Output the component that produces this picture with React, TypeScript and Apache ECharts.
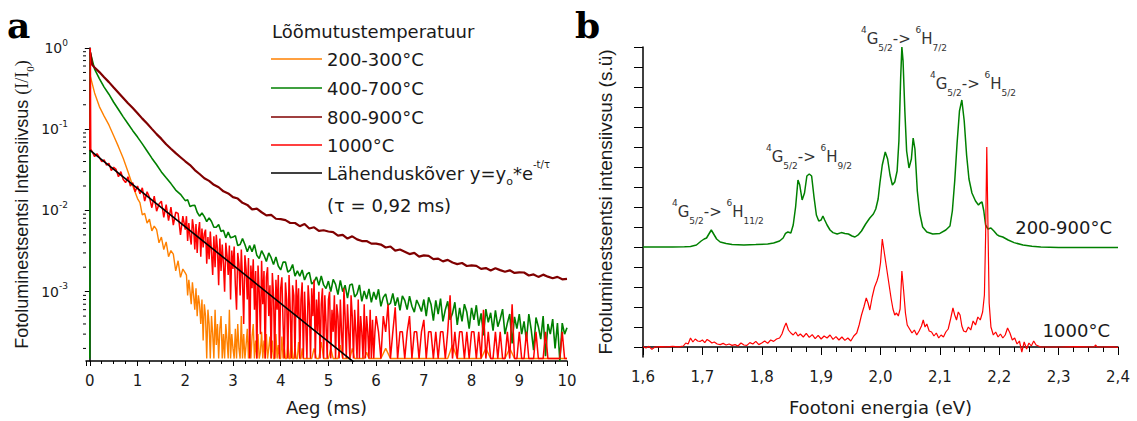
import React, { useEffect, useRef } from "react";
import * as echarts from "echarts";

// ---------------- Panel a : luminescence decay (log scale) ----------------
const STEP_COARSE = 0.1; // ms
const STEP_FINE = 0.05; // ms
const STEP_DENSE = 0.025; // ms

// 200-300°C
const orangeLead: [number, number][] = [[0.01, 0.45]];
const orangeEarly = [0.28, 0.19, 0.145, 0.113, 0.083, 0.061, 0.044, 0.030, 0.020, 0.014]; // t = 0.1 .. 1.0
const orangeFine = [ // t = 1.05 .. 2.0
  0.0125, 0.0088, 0.0092, 0.0070, 0.0078, 0.0056, 0.0064, 0.0058, 0.0040, 0.0047,
  0.0033, 0.0041, 0.0027, 0.0032, 0.0029, 0.0018, 0.0024, 0.0015, 0.0019, 0.0017,
];
const orangeDense = [ // t = 2.025 .. 4.5
  0.0016, 0.0009, 0.0014, 0.0010, 0.0007, 0.0013, 0.0009, 0.0006,
  0.0011, 0.0005, 0.0009, 0.0007, 0.0004, 0.0008, 0.00025, 0.0007,
  0.0005, 0.00015, 0.0006, 0.0004, 0.00015, 0.0005, 0.0003, 0.00015,
  0.0006, 0.00022, 0.0004, 0.00015, 0.00035, 0.0005, 0.00015, 0.0003,
  0.00015, 0.0004, 0.00025, 0.00015, 0.0006, 0.00015, 0.0003, 0.0002,
  0.00015, 0.00035, 0.00015, 0.0004, 0.0002, 0.00015, 0.0005, 0.00015,
  0.0003, 0.00015, 0.00022, 0.00035, 0.00015, 0.0003, 0.00015, 0.00028,
  0.0004, 0.00015, 0.00025, 0.00015, 0.0003, 0.00015, 0.00018, 0.00032,
  0.00015, 0.00025, 0.00015, 0.0003, 0.00015, 0.0002, 0.00028, 0.00015,
  0.00025, 0.00015, 0.00015, 0.0003, 0.00015, 0.00022, 0.00015, 0.00015,
  0.00028, 0.00015, 0.0002, 0.00015, 0.00015, 0.00025, 0.00015, 0.00015,
  0.0003, 0.00015, 0.00015, 0.0002, 0.00015, 0.00015, 0.00024, 0.00015,
  0.00015, 0.0002, 0.00015, 0.00015,
];
const orangeLate = [ // t = 4.55 .. 6.0
  0.00015, 0.00015, 0.00015, 0.0002, 0.00015, 0.00015, 0.00024, 0.00015, 0.00015, 0.00015,
  0.0002, 0.00015, 0.00015, 0.00015, 0.00022, 0.00015, 0.00015, 0.00015, 0.00015, 0.0002,
  0.00015, 0.00015, 0.00015, 0.00015, 0.00015, 0.00018, 0.00015, 0.00015, 0.00015, 0.00015,
];
const orangeTail = [ // t = 6.1 .. 10.0
  0.00015, 0.0002, 0.00015, 0.00015, 0.00015, 0.00015, 0.00015, 0.00015, 0.00015, 0.00015,
  0.00015, 0.00015, 0.00015, 0.00015, 0.00015, 0.00022, 0.00015, 0.00015, 0.00015, 0.00015,
  0.00015, 0.00015, 0.0002, 0.00015, 0.00015, 0.00015, 0.00015, 0.0002, 0.00015, 0.00015,
  0.00015, 0.00015, 0.00015, 0.00015, 0.00015, 0.00015, 0.00015, 0.00015, 0.00015, 0.00015,
];

// 400-700°C
const greenLead: [number, number][] = [[0, 0.00015], [0.01, 0.88]];
const greenEarly = [ // t = 0.1 .. 2.0
  0.55, 0.42, 0.33, 0.27, 0.215, 0.175, 0.142, 0.117, 0.096, 0.080,
  0.066, 0.054, 0.044, 0.0365, 0.0298, 0.0252, 0.0214, 0.0178, 0.0158, 0.0132,
];
const greenLate = [ // t = 2.05 .. 10.0
  0.0135, 0.0112, 0.0115, 0.0116, 0.0095, 0.0085, 0.0093, 0.0084, 0.0073, 0.0081,
  0.0073, 0.0062, 0.0062, 0.0067, 0.0055, 0.0057, 0.0046, 0.0054, 0.0046, 0.0047,
  0.0049, 0.0037, 0.0038, 0.0045, 0.0038, 0.0031, 0.0037, 0.0031, 0.0038, 0.0028,
  0.00255, 0.0032, 0.0028, 0.00235, 0.0030, 0.00262, 0.00216, 0.00267, 0.00207, 0.00185,
  0.00231, 0.00232, 0.00174, 0.00184, 0.00216, 0.00155, 0.0018, 0.00155, 0.00185, 0.00139,
  0.00164, 0.00173, 0.00124, 0.00133, 0.00152, 0.0012, 0.00156, 0.00121, 0.00109, 0.00135,
  0.0010, 0.00142, 0.00123, 0.00092, 0.00138, 0.0010, 0.0012, 0.00083, 0.00121, 0.00124,
  0.00086, 0.00094, 0.00121, 0.00076, 0.00102, 0.00081, 0.00108, 0.00074, 0.00099, 0.0008,
  0.00107, 0.00066, 0.00085, 0.00094, 0.00068, 0.00072, 0.00095, 0.00067, 0.00085, 0.00059,
  0.00089, 0.00078, 0.0006, 0.00088, 0.00066, 0.00056, 0.00079, 0.00068, 0.00057, 0.0008,
  0.00050, 0.00085, 0.00070, 0.00044, 0.00078, 0.00053, 0.00082, 0.00043, 0.00060, 0.00076,
  0.00045, 0.00054, 0.00074, 0.00039, 0.00063, 0.00043, 0.00070, 0.00056, 0.00035, 0.00063,
  0.00045, 0.00068, 0.00038, 0.00054, 0.00029, 0.00061, 0.00042, 0.00055, 0.00033, 0.00059,
  0.00037, 0.00046, 0.00061, 0.00030, 0.00041, 0.00053, 0.00023, 0.00049, 0.00035, 0.00053,
  0.00030, 0.00043, 0.00025, 0.00053, 0.00034, 0.00019, 0.00048, 0.00037, 0.00026, 0.00050,
  0.00016, 0.00040, 0.00030, 0.00046, 0.00020, 0.00041, 0.00014, 0.00041, 0.00030, 0.00036,
];

// 800-900°C
const darkRedLead: [number, number][] = [[0.01, 0.88], [0.05, 0.62]];
const darkRed800_900 = [ // t = 0.1 .. 10.0
  0.575, 0.505, 0.437, 0.38, 0.327, 0.282, 0.243, 0.209, 0.182, 0.157,
  0.135, 0.1175, 0.101, 0.087, 0.076, 0.0653, 0.0575, 0.0507, 0.0452, 0.0403,
  0.0362, 0.0314, 0.0281, 0.0249, 0.0231, 0.0207, 0.0193, 0.0172, 0.0162, 0.0146,
  0.0140, 0.0124, 0.0117, 0.0103, 0.0105, 0.0095, 0.0087, 0.0088, 0.0079, 0.0078,
  0.0076, 0.0070, 0.0070, 0.0064, 0.0068, 0.0060, 0.0062, 0.0056, 0.0057, 0.0055,
  0.0054, 0.0049, 0.0050, 0.0045, 0.0048, 0.0044, 0.0042, 0.0042, 0.0039, 0.0039,
  0.0038, 0.0035, 0.0036, 0.0032, 0.0033, 0.0031, 0.0029, 0.0030, 0.0027, 0.0028,
  0.00276, 0.00252, 0.00255, 0.00236, 0.00246, 0.00228, 0.00218, 0.00225, 0.00207, 0.00211,
  0.00208, 0.00191, 0.00195, 0.00182, 0.00194, 0.00184, 0.00176, 0.00183, 0.0017, 0.00173,
  0.00172, 0.00158, 0.00163, 0.00152, 0.00162, 0.00153, 0.00146, 0.00152, 0.00142, 0.00144,
];

// 1000°C
const redLead: [number, number][] = [[0, 0.055], [0.01, 1.0], [0.02, 0.057]];
const redEarly = [ // t = 0.05 .. 2.0
  0.053, 0.046, 0.050, 0.045, 0.040, 0.042, 0.036, 0.038, 0.031, 0.034,
  0.032, 0.026, 0.030, 0.024, 0.022, 0.026, 0.020, 0.022, 0.017, 0.020,
  0.016, 0.019, 0.013, 0.017, 0.0145, 0.0108, 0.0150, 0.0098, 0.0120, 0.0130,
  0.0082, 0.0118, 0.0075, 0.0110, 0.0066, 0.0095, 0.0092, 0.0050, 0.0085, 0.0058,
];
const redDense = [ // t = 2.025 .. 6.0
  0.0085, 0.0042, 0.0070, 0.0048, 0.0038, 0.0078, 0.0060, 0.0033,
  0.0068, 0.0030, 0.0055, 0.0072, 0.0027, 0.0060, 0.0035, 0.0052,
  0.0058, 0.0022, 0.0047, 0.0025, 0.0055, 0.0030, 0.0016, 0.0048,
  0.0020, 0.0050, 0.0034, 0.0012, 0.0045, 0.0018, 0.0038, 0.0022,
  0.0010, 0.0040, 0.0028, 0.0016, 0.0037, 0.0008, 0.0032, 0.0019,
  0.0036, 0.0012, 0.0006, 0.0030, 0.0022, 0.0009, 0.0033, 0.0014,
  0.0004, 0.0028, 0.0019, 0.0008, 0.0026, 0.00015, 0.0021, 0.0011,
  0.0025, 0.0006, 0.0018, 0.00015, 0.0021, 0.0010, 0.0003, 0.0024,
  0.0007, 0.0018, 0.00015, 0.0015, 0.0020, 0.0005, 0.0012, 0.00015,
  0.0017, 0.0009, 0.00015, 0.0014, 0.0006, 0.0016, 0.00015, 0.0011,
  0.0015, 0.0004, 0.00015, 0.0013, 0.0008, 0.00015, 0.0016, 0.0006,
  0.00015, 0.0012, 0.0009, 0.00015, 0.0014, 0.0005, 0.0011, 0.00015,
  0.0008, 0.0013, 0.00015, 0.0010, 0.0004, 0.00015, 0.0012, 0.0007,
  0.00015, 0.0011, 0.0005, 0.0014, 0.00015, 0.0008, 0.00032, 0.0010,
  0.00015, 0.0007, 0.0011, 0.00015, 0.0009, 0.0004, 0.00015, 0.0008,
  0.0010, 0.00015, 0.0006, 0.00032, 0.0009, 0.00015, 0.0007, 0.0005,
  0.00015, 0.0008, 0.00032, 0.00015, 0.0011, 0.0005, 0.00015, 0.0007,
  0.00032, 0.00015, 0.0009, 0.0005, 0.00015, 0.0006, 0.00032, 0.00015,
  0.0008, 0.00015, 0.0005, 0.00032, 0.00015, 0.0007, 0.00015, 0.0005,
  0.00032, 0.00015, 0.0006, 0.00015, 0.00045, 0.00015, 0.00032, 0.0005,
];
const redLate = [ // t = 6.05 .. 10.0
  0.00032, 0.00015, 0.0005, 0.00032, 0.0007, 0.00015, 0.00032, 0.00064, 0.00015, 0.00032,
  0.00032, 0.00015, 0.00032, 0.0005, 0.00015, 0.00032, 0.00032, 0.00015, 0.00032, 0.00045,
  0.00015, 0.00032, 0.00032, 0.00015, 0.00032, 0.00015, 0.00032, 0.00032, 0.00015, 0.00032,
  0.0009, 0.00015, 0.00032, 0.00015, 0.00032, 0.00032, 0.00015, 0.00032, 0.00015, 0.00032,
  0.00032, 0.00015, 0.00032, 0.00015, 0.0006, 0.00015, 0.00032, 0.00015, 0.00015, 0.00032,
  0.00015, 0.00032, 0.00015, 0.00015, 0.00032, 0.00015, 0.0007, 0.00015, 0.00015, 0.00032,
  0.00015, 0.00015, 0.00032, 0.00015, 0.00015, 0.00015, 0.00032, 0.00015, 0.00015, 0.00015,
  0.00032, 0.00015, 0.00015, 0.00015, 0.00015, 0.00015, 0.00015, 0.00032, 0.00015, 0.00015,
];

// exponential fit y = y0 * e^(-t/tau), tau = 0.92 ms (straight on a log axis)
const fitLine: [number, number][] = [[0, 0.0553], [5.6, 0.000126]];

const LOG_MANTISSAS = [2, 3, 4, 5, 6, 7, 8, 9];
const LOG_DECADES = [-4, -3, -2, -1];

// ---------------- Panel b : emission spectra ----------------
const spectrum200_900: [number, number][] = [
  [1.6, 5.0], [1.65, 5.0], [1.67, 5.01], [1.68, 5.03], [1.69, 5.1], [1.698, 5.3], [1.703, 5.4],
  [1.707, 5.45], [1.711, 5.65], [1.715, 5.85], [1.719, 5.65], [1.724, 5.4], [1.73, 5.25],
  [1.74, 5.18], [1.75, 5.12], [1.77, 5.1], [1.79, 5.12], [1.81, 5.15], [1.82, 5.2], [1.83, 5.3],
  [1.836, 5.45], [1.84, 5.68], [1.844, 5.75], [1.849, 5.7], [1.853, 6.1], [1.857, 7.0],
  [1.861, 8.35], [1.864, 8.1], [1.868, 7.35], [1.872, 7.7], [1.876, 8.55], [1.88, 8.65],
  [1.884, 8.55], [1.888, 7.5], [1.892, 6.6], [1.896, 6.3], [1.9, 6.35], [1.903, 6.55],
  [1.906, 6.35], [1.91, 6.1], [1.915, 5.85], [1.92, 5.72], [1.927, 5.65], [1.934, 5.72],
  [1.94, 5.68], [1.946, 5.65], [1.952, 5.55], [1.957, 5.5], [1.963, 5.62], [1.968, 5.8],
  [1.975, 6.15], [1.982, 6.45], [1.988, 6.65], [1.992, 6.9], [1.996, 7.4], [1.999, 8.2],
  [2.003, 9.1], [2.008, 9.75], [2.012, 9.4], [2.016, 8.6], [2.02, 8.1], [2.024, 8.25],
  [2.028, 8.8], [2.031, 10.3], [2.034, 13.5], [2.036, 15.0], [2.038, 14.3], [2.041, 11.8],
  [2.044, 9.8], [2.048, 8.95], [2.052, 9.4], [2.055, 10.45], [2.058, 9.9], [2.062, 7.8],
  [2.066, 6.7], [2.071, 6.0], [2.078, 5.75], [2.088, 5.65], [2.1, 5.68], [2.11, 5.85],
  [2.117, 6.05], [2.121, 6.8], [2.125, 8.3], [2.129, 10.2], [2.133, 11.8], [2.137, 12.35],
  [2.141, 11.3], [2.145, 9.6], [2.149, 8.4], [2.154, 7.7], [2.16, 7.3], [2.165, 7.1],
  [2.168, 7.2], [2.171, 7.25], [2.174, 6.8], [2.177, 6.1], [2.181, 5.9], [2.186, 5.95],
  [2.191, 5.8], [2.196, 5.62], [2.2, 5.55], [2.206, 5.5], [2.215, 5.35], [2.225, 5.22],
  [2.24, 5.1], [2.255, 5.04], [2.27, 5.0], [2.3, 4.98], [2.35, 4.97], [2.4, 4.97],
];

const spectrum1000: [number, number][] = [
  [1.6, 0.02], [1.605, -0.05], [1.61, 0.03], [1.615, -0.12], [1.62, 0.0], [1.63, 0.02],
  [1.64, 0.01], [1.65, 0.03], [1.66, 0.01], [1.668, 0.05], [1.672, 0.2], [1.676, 0.15],
  [1.68, 0.45], [1.684, 0.25], [1.688, 0.4], [1.692, 0.3], [1.696, 0.28], [1.7, 0.35],
  [1.704, 0.22], [1.708, 0.38], [1.712, 0.3], [1.716, 0.2], [1.72, 0.25], [1.725, 0.15],
  [1.73, 0.12], [1.735, 0.18], [1.74, 0.1], [1.745, 0.15], [1.75, 0.08], [1.755, 0.12],
  [1.76, 0.05], [1.765, 0.2], [1.77, 0.1], [1.775, 0.08], [1.78, 0.22], [1.785, 0.15],
  [1.79, 0.28], [1.795, 0.12], [1.8, 0.2], [1.805, 0.3], [1.81, 0.18], [1.815, 0.35],
  [1.82, 0.28], [1.825, 0.4], [1.83, 0.45], [1.834, 0.65], [1.838, 1.0], [1.841, 1.2],
  [1.845, 0.85], [1.849, 0.7], [1.853, 0.6], [1.857, 0.75], [1.861, 0.55], [1.865, 0.65],
  [1.87, 0.5], [1.875, 0.68], [1.88, 0.48], [1.885, 0.62], [1.89, 0.42], [1.895, 0.58],
  [1.9, 0.4], [1.905, 0.55], [1.91, 0.45], [1.915, 0.6], [1.92, 0.38], [1.925, 0.52],
  [1.93, 0.35], [1.935, 0.5], [1.94, 0.33], [1.945, 0.45], [1.95, 0.3], [1.955, 0.55],
  [1.96, 0.7], [1.964, 1.1], [1.968, 1.6], [1.972, 2.0], [1.976, 2.45], [1.979, 2.2],
  [1.982, 1.85], [1.986, 2.5], [1.99, 3.0], [1.994, 3.3], [1.997, 3.6], [2.0, 4.2],
  [2.003, 5.4], [2.006, 4.8], [2.009, 4.2], [2.012, 3.6], [2.015, 3.0], [2.018, 2.4],
  [2.021, 1.9], [2.024, 1.6], [2.027, 1.7], [2.03, 1.55], [2.033, 1.9], [2.036, 3.8],
  [2.039, 2.8], [2.042, 1.7], [2.045, 1.1], [2.049, 0.9], [2.053, 0.7], [2.057, 0.85],
  [2.061, 0.6], [2.065, 0.8], [2.069, 1.05], [2.072, 1.35], [2.075, 1.0], [2.078, 1.15],
  [2.082, 0.8], [2.086, 0.75], [2.09, 0.55], [2.094, 0.7], [2.098, 0.45], [2.102, 0.6],
  [2.106, 0.5], [2.11, 0.75], [2.114, 0.9], [2.118, 1.4], [2.122, 1.95], [2.125, 1.6],
  [2.128, 1.35], [2.131, 1.75], [2.134, 1.6], [2.137, 1.05], [2.14, 0.8], [2.144, 0.75],
  [2.148, 1.0], [2.152, 0.85], [2.156, 1.3], [2.16, 1.1], [2.164, 1.5], [2.168, 1.35],
  [2.172, 1.75], [2.175, 2.6], [2.177, 5.5], [2.179, 10.0], [2.181, 6.0], [2.183, 2.2],
  [2.186, 1.0], [2.19, 0.6], [2.194, 0.75], [2.198, 0.5], [2.202, 0.65], [2.206, 0.45],
  [2.21, 0.6], [2.214, 0.95], [2.218, 0.7], [2.222, 0.35], [2.226, 0.45], [2.23, 0.15],
  [2.234, 0.3], [2.238, -0.25], [2.242, 0.25], [2.246, -0.1], [2.25, 0.2], [2.254, 0.05],
  [2.258, 0.3], [2.262, 0.1], [2.266, 0.05], [2.27, 0.0], [2.3, 0.0], [2.33, 0.02],
  [2.36, 0.0], [2.362, 0.1], [2.365, 0.0], [2.39, 0.01], [2.4, -0.02],
];

const SPECTRUM_TICKS = [0, 1, 2, 3, 4, 5, 6, 7, 8, 9, 10, 11, 12, 13, 14, 15];

// ---------------- labels ----------------
const LEGEND_TITLE = "Lõõmutustemperatuur";
const NAMES = ["200-300°C", "400-700°C", "800-900°C", "1000°C", "Lähenduskõver"];
const FIT_LABEL = "Lähenduskõver y=y{sub|o}*e{sup|-t/τ}";
const TAU_LABEL = "(τ = 0,92 ms)";
const SPEC_NAMES = ["200-900°C", "1000°C"];
const TRANSITIONS = [
  "{sup|4}G{sub|5/2}-> {sup|6}H{sub|11/2}",
  "{sup|4}G{sub|5/2}-> {sup|6}H{sub|9/2}",
  "{sup|4}G{sub|5/2}-> {sup|6}H{sub|7/2}",
  "{sup|4}G{sub|5/2}-> {sup|6}H{sub|5/2}",
];

const ORANGE = "#FF8000";
const GREEN = "#008000";
const DARKRED = "#800000";
const RED = "#FF0000";
const BLACK = "#000000";

const SANS = "DejaVu Sans";
const ARIAL = "Liberation Sans";
const TXT = "#1a1a1a";

function onGrid(start: number, step: number, vals: number[]): [number, number][] {
  return vals.map((v, i) => [Math.round((start + i * step) * 1000) / 1000, v] as [number, number]);
}

export default function App() {
  const ref = useRef<HTMLDivElement>(null);

  useEffect(() => {
    if (!ref.current) return;
    const chart = echarts.init(ref.current, undefined, { renderer: "svg" });

    const X0_MIN = -0.08;
    const logMinor: number[][] = [];
    LOG_DECADES.forEach((d) =>
      LOG_MANTISSAS.forEach((m) => {
        const v = m * Math.pow(10, d);
        if (v > 1.4e-4 && v < 1) logMinor.push([X0_MIN, v]);
      })
    );

    const orangeData = [
      ...orangeLead,
      ...onGrid(0.1, STEP_COARSE, orangeEarly),
      ...onGrid(1.05, STEP_FINE, orangeFine),
      ...onGrid(2.025, STEP_DENSE, orangeDense),
      ...onGrid(4.55, STEP_FINE, orangeLate),
      ...onGrid(6.1, STEP_COARSE, orangeTail),
    ];
    const greenData = [...greenLead, ...onGrid(0.1, STEP_COARSE, greenEarly), ...onGrid(2.05, STEP_FINE, greenLate)];
    const darkRedData = [...darkRedLead, ...onGrid(0.1, STEP_COARSE, darkRed800_900)];
    const redData = [
      ...redLead,
      ...onGrid(0.05, STEP_FINE, redEarly),
      ...onGrid(2.025, STEP_DENSE, redDense),
      ...onGrid(6.05, STEP_FINE, redLate),
    ];

    const lineBase = {
      type: "line",
      xAxisIndex: 0,
      yAxisIndex: 0,
      showSymbol: false,
      symbol: "none",
      clip: true,
      silent: true,
      animation: false,
    };

    const legendRows = [59, 88, 117, 145, 173];
    const legendColors = [ORANGE, GREEN, DARKRED, RED, BLACK];
    const legendGraphics: any[] = [
      {
        type: "text",
        x: 272,
        y: 31,
        style: { text: LEGEND_TITLE, fontFamily: SANS, fontSize: 18, fill: TXT, verticalAlign: "middle" },
      },
    ];
    legendRows.forEach((y, i) => {
      legendGraphics.push({
        type: "line",
        shape: { x1: 271, y1: y, x2: 322, y2: y },
        style: { stroke: legendColors[i], lineWidth: 1.5 },
      });
      legendGraphics.push({
        type: "text",
        x: 327,
        y,
        style: {
          text: i === 4 ? FIT_LABEL : NAMES[i],
          fontFamily: SANS,
          fontSize: 18,
          lineHeight: 27,
          fill: TXT,
          verticalAlign: "middle",
          rich: {
            sub: { fontSize: 11, verticalAlign: "bottom", lineHeight: 11, fill: TXT, fontFamily: SANS },
            sup: { fontSize: 10, verticalAlign: "top", lineHeight: 10, fill: TXT, fontFamily: SANS },
          },
        },
      });
    });
    legendGraphics.push({
      type: "text",
      x: 327,
      y: 205,
      style: { text: TAU_LABEL, fontFamily: SANS, fontSize: 18, fill: TXT, verticalAlign: "middle" },
    });

    const annPos = [
      [672, 212],
      [766, 157],
      [861, 39],
      [930, 84],
    ];
    const annGraphics = TRANSITIONS.map((t, i) => ({
      type: "text",
      x: annPos[i][0],
      y: annPos[i][1],
      style: {
        text: t,
        fontFamily: SANS,
        fontSize: 15,
        lineHeight: 27,
        fill: "#333",
        verticalAlign: "middle",
        rich: {
          sup: { fontSize: 9, verticalAlign: "top", lineHeight: 9, fill: "#333", fontFamily: SANS },
          sub: { fontSize: 9, verticalAlign: "bottom", lineHeight: 9, fill: "#333", fontFamily: SANS },
        },
      },
    }));

    const option: any = {
      animation: false,
      textStyle: { fontFamily: SANS },
      grid: [
        { left: 86, top: 48, width: 481, height: 315 },
        { left: 643, top: 47, width: 475, height: 310 },
      ],
      xAxis: [
        {
          gridIndex: 0,
          type: "value",
          min: X0_MIN,
          max: 10,
          splitNumber: 10,
          axisLine: { lineStyle: { color: "#000", width: 1.5 } },
          axisTick: { length: 5, lineStyle: { color: "#000" } },
          minorTick: { show: true, splitNumber: 4, length: 3, lineStyle: { color: "#000" } },
          splitLine: { show: false },
          axisLabel: { showMinLabel: false, fontSize: 15, color: TXT, margin: 12, fontFamily: SANS },
          name: "Aeg (ms)",
          nameLocation: "middle",
          nameGap: 37,
          nameTextStyle: { fontSize: 18, color: TXT, fontFamily: SANS },
        },
        {
          gridIndex: 1,
          type: "value",
          min: 1.6,
          max: 2.4,
          interval: 0.1,
          axisLine: { lineStyle: { color: "#000", width: 1.5 } },
          axisTick: { length: 8, lineStyle: { color: "#000" } },
          minorTick: { show: true, splitNumber: 4, length: 5, lineStyle: { color: "#000" } },
          splitLine: { show: false },
          axisLabel: {
            fontSize: 15,
            color: TXT,
            margin: 12,
            fontFamily: SANS,
            formatter: (v: number) => v.toFixed(1).replace(".", ","),
          },
          name: "Footoni energia (eV)",
          nameLocation: "middle",
          nameGap: 41,
          nameTextStyle: { fontSize: 18, color: TXT, fontFamily: SANS },
        },
      ],
      yAxis: [
        {
          gridIndex: 0,
          type: "log",
          logBase: 10,
          min: 1.4e-4,
          max: 1,
          axisLine: { show: true, lineStyle: { color: "#000", width: 1.5 } },
          axisTick: { show: true, length: 5, lineStyle: { color: "#000" } },
          splitLine: { show: false },
          axisLabel: {
            showMinLabel: false,
            margin: 18,
            fontSize: 14,
            lineHeight: 20,
            color: TXT,
            fontFamily: SANS,
            formatter: (v: number) => "10{sup|" + Math.round(Math.log10(v)) + "}",
            rich: {
              sup: { fontSize: 9, verticalAlign: "top", lineHeight: 9, color: TXT, fontFamily: SANS },
            },
          },
          name: "Fotoluminestsentsi Intensiivsus {ser|(I/I}{sub|0}{ser|)}",
          nameLocation: "middle",
          nameGap: 51,
          nameTextStyle: {
            fontSize: 18,
            lineHeight: 26,
            color: TXT,
            fontFamily: ARIAL,
            rich: {
              ser: { fontSize: 18, fontFamily: "Liberation Serif", color: TXT },
              sub: { fontSize: 11, fontFamily: "Liberation Serif", verticalAlign: "bottom", lineHeight: 11, color: TXT },
            },
          },
        },
        {
          gridIndex: 1,
          type: "value",
          min: -0.5,
          max: 15,
          axisLine: { show: true, lineStyle: { color: "#000", width: 1.5 } },
          axisTick: { show: true, length: 9, lineStyle: { color: "#000" }, customValues: SPECTRUM_TICKS },
          axisLabel: { show: false },
          splitLine: { show: false },
          name: "Fotoluminestsentsi intensiivsus (s.ü)",
          nameLocation: "middle",
          nameGap: 28,
          nameTextStyle: { fontSize: 19, color: TXT, fontFamily: ARIAL },
        },
      ],
      series: [
        { ...lineBase, name: NAMES[0], data: orangeData, lineStyle: { color: ORANGE, width: 1.4 }, itemStyle: { color: ORANGE } },
        { ...lineBase, name: NAMES[1], data: greenData, lineStyle: { color: GREEN, width: 1.6 }, itemStyle: { color: GREEN } },
        { ...lineBase, name: NAMES[2], data: darkRedData, lineStyle: { color: DARKRED, width: 2.2 }, itemStyle: { color: DARKRED } },
        { ...lineBase, name: NAMES[3], data: redData, lineStyle: { color: RED, width: 1.5 }, itemStyle: { color: RED } },
        { ...lineBase, name: NAMES[4], data: fitLine, lineStyle: { color: BLACK, width: 1.6 }, itemStyle: { color: BLACK } },
        {
          type: "custom",
          xAxisIndex: 0,
          yAxisIndex: 0,
          clip: false,
          silent: true,
          data: logMinor,
          renderItem: (_p: any, api: any) => {
            const p = api.coord([api.value(0), api.value(1)]);
            return {
              type: "line",
              shape: { x1: p[0] - 3, y1: p[1], x2: p[0], y2: p[1] },
              style: { stroke: "#000", lineWidth: 1 },
            };
          },
        },
        {
          type: "line",
          name: SPEC_NAMES[0],
          xAxisIndex: 1,
          yAxisIndex: 1,
          data: spectrum200_900,
          showSymbol: false,
          symbol: "none",
          silent: true,
          lineStyle: { color: GREEN, width: 1.5 },
          itemStyle: { color: GREEN },
        },
        {
          type: "line",
          name: SPEC_NAMES[1],
          xAxisIndex: 1,
          yAxisIndex: 1,
          data: spectrum1000,
          showSymbol: false,
          symbol: "none",
          silent: true,
          lineStyle: { color: RED, width: 1.2 },
          itemStyle: { color: RED },
        },
      ],
      graphic: [
        {
          type: "text",
          x: 7,
          y: 25,
          style: { text: "a", fontFamily: "DejaVu Serif", fontWeight: "bold", fontSize: 36, fill: "#000", verticalAlign: "middle" },
        },
        {
          type: "text",
          x: 575,
          y: 25,
          style: { text: "b", fontFamily: "DejaVu Serif", fontWeight: "bold", fontSize: 36, fill: "#000", verticalAlign: "middle" },
        },
        ...legendGraphics,
        ...annGraphics,
        {
          type: "text",
          x: 1112,
          y: 227,
          style: { text: SPEC_NAMES[0], fontFamily: SANS, fontSize: 18, fill: TXT, align: "right", verticalAlign: "middle" },
        },
        {
          type: "text",
          x: 1110,
          y: 330,
          style: { text: SPEC_NAMES[1], fontFamily: SANS, fontSize: 18, fill: TXT, align: "right", verticalAlign: "middle" },
        },
      ],
    };

    chart.setOption(option);
    return () => chart.dispose();
  }, []);

  return (
    <div
      ref={ref}
      style={{ position: "fixed", left: 0, top: 0, width: 1137, height: 421, background: "#fff" }}
    />
  );
}
